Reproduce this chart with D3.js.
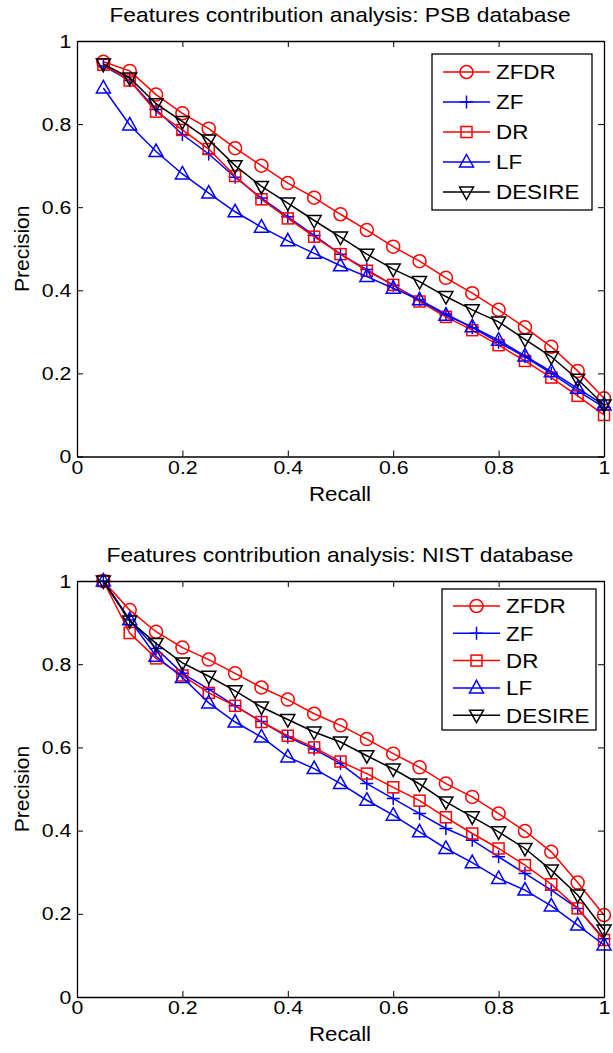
<!DOCTYPE html>
<html>
<head>
<meta charset="utf-8">
<script src="https://cdn.jsdelivr.net/npm/d3@7"></script>
<style>
  body { margin: 0; background: #fff; }
  text { font-family: "Liberation Sans", Arial, sans-serif; fill: #000; }
</style>
</head>
<body>
<div id="container"></div>
<script>
// recall levels shared by both plots
const recall = [0.05, 0.1, 0.15, 0.2, 0.25, 0.3, 0.35, 0.4, 0.45, 0.5,
                0.55, 0.6, 0.65, 0.7, 0.75, 0.8, 0.85, 0.9, 0.95, 1.0]
const seriesNames = ["ZFDR", "ZF", "DR", "LF", "DESIRE"]
const xTicks = [0, 0.2, 0.4, 0.6, 0.8, 1]
const yTicks = [0, 0.2, 0.4, 0.6, 0.8, 1]

// PSB database
const psbZFDR   = [0.950, 0.928, 0.871, 0.826, 0.789, 0.742, 0.700, 0.658, 0.623, 0.583, 0.545, 0.505, 0.470, 0.430, 0.393, 0.353, 0.311, 0.264, 0.206, 0.140]
const psbZF     = [0.940, 0.905, 0.835, 0.775, 0.728, 0.672, 0.622, 0.577, 0.532, 0.487, 0.450, 0.412, 0.377, 0.343, 0.310, 0.275, 0.240, 0.200, 0.158, 0.118]
const psbDR     = [0.943, 0.905, 0.830, 0.786, 0.740, 0.675, 0.619, 0.573, 0.529, 0.487, 0.447, 0.413, 0.373, 0.336, 0.304, 0.268, 0.230, 0.190, 0.146, 0.100]
const psbLF     = [0.887, 0.798, 0.734, 0.680, 0.634, 0.589, 0.552, 0.519, 0.489, 0.459, 0.433, 0.405, 0.377, 0.340, 0.312, 0.280, 0.242, 0.204, 0.164, 0.124]
const psbDESIRE = [0.945, 0.911, 0.849, 0.806, 0.762, 0.700, 0.650, 0.610, 0.568, 0.528, 0.487, 0.451, 0.421, 0.385, 0.353, 0.324, 0.282, 0.240, 0.186, 0.124]

// NIST database
const nistZFDR   = [1.0, 0.930, 0.878, 0.840, 0.811, 0.778, 0.744, 0.715, 0.681, 0.653, 0.620, 0.585, 0.552, 0.513, 0.481, 0.441, 0.399, 0.349, 0.275, 0.197]
const nistZF     = [1.0, 0.906, 0.838, 0.778, 0.740, 0.700, 0.662, 0.625, 0.596, 0.561, 0.513, 0.477, 0.441, 0.405, 0.377, 0.337, 0.297, 0.257, 0.213, 0.140]
const nistDR     = [1.0, 0.875, 0.814, 0.773, 0.731, 0.700, 0.661, 0.628, 0.600, 0.566, 0.537, 0.504, 0.472, 0.432, 0.393, 0.357, 0.317, 0.271, 0.213, 0.137]
const nistLF     = [1.0, 0.907, 0.819, 0.768, 0.707, 0.661, 0.625, 0.577, 0.549, 0.513, 0.473, 0.437, 0.397, 0.357, 0.323, 0.285, 0.257, 0.219, 0.173, 0.125]
const nistDESIRE = [1.0, 0.904, 0.850, 0.803, 0.771, 0.736, 0.697, 0.667, 0.637, 0.613, 0.580, 0.548, 0.512, 0.469, 0.433, 0.397, 0.357, 0.305, 0.245, 0.161]

const colors  = { ZFDR: "#ff0000", ZF: "#0000ff", DR: "#ff0000", LF: "#0000ff", DESIRE: "#000000" }
const symbols = { ZFDR: "circle", ZF: "plus", DR: "square", LF: "tri-up", DESIRE: "tri-down" }

const W = 613, H = 1053
const stretch = 1.12   // the source fonts are a bit wider than Liberation Sans

const svg = d3.select("#container")
  .append("svg")
  .attr("width", W)
  .attr("height", H)

// draws a matlab style marker into g
function marker(g, type, color) {
  if (type === "circle") {
    g.append("circle").attr("r", 6.5)
  } else if (type === "square") {
    g.append("rect").attr("x", -5.5).attr("y", -5.5).attr("width", 11).attr("height", 11)
  } else if (type === "plus") {
    g.append("path").attr("d", "M-6.5,0H6.5M0,-6.5V6.5")
  } else if (type === "tri-up") {
    g.append("path").attr("d", "M0,-7.5L7,5L-7,5Z")
  } else if (type === "tri-down") {
    g.append("path").attr("d", "M0,7.5L7,-5L-7,-5Z")
  }
  g.selectAll("*").attr("fill", "none").attr("stroke", color).attr("stroke-width", 1.5)
}

// horizontal text with the small stretch
function label(g, x, y, txt, size, anchor, s) {
  return g.append("text")
    .attr("transform", `translate(${x},${y}) scale(${s || stretch},1)`)
    .attr("text-anchor", anchor || "middle")
    .style("font-size", size + "px")
    .text(txt)
}

function drawChart(opts) {
  const x = d3.scaleLinear().domain([0, 1]).range([77, 604])
  const y = d3.scaleLinear().domain([0, 1]).range([opts.bottom, opts.top])
  const g = svg.append("g")

  // series
  seriesNames.forEach(name => {
    const vals = opts.data[name]
    const pts = recall.map((r, i) => [r, vals[i]])
    g.append("path")
      .datum(pts)
      .attr("fill", "none")
      .attr("stroke", colors[name])
      .attr("stroke-width", 1.5)
      .attr("d", d3.line().x(d => x(d[0])).y(d => y(d[1])))
    g.append("g").selectAll("g")
      .data(pts)
      .join("g")
      .attr("transform", d => `translate(${x(d[0])},${y(d[1])})`)
      .each(function () { marker(d3.select(this), symbols[name], colors[name]) })
  })

  // axes, ticks on all four sides pointing in
  const tl = 6
  const bottomAx = g.append("g").attr("transform", `translate(0,${opts.bottom})`)
    .call(d3.axisBottom(x).tickValues(xTicks).tickSizeInner(-tl).tickSizeOuter(0).tickPadding(4).tickFormat(d3.format("")))
  const topAx = g.append("g").attr("transform", `translate(0,${opts.top})`)
    .call(d3.axisTop(x).tickValues(xTicks).tickSizeInner(-tl).tickSizeOuter(0).tickFormat(""))
  const leftAx = g.append("g").attr("transform", `translate(77,0)`)
    .call(d3.axisLeft(y).tickValues(yTicks).tickSizeInner(-tl).tickSizeOuter(0).tickPadding(5).tickFormat(d3.format("")))
  const rightAx = g.append("g").attr("transform", `translate(604,0)`)
    .call(d3.axisRight(y).tickValues(yTicks).tickSizeInner(-tl).tickSizeOuter(0).tickFormat(""))
  ;[bottomAx, topAx, leftAx, rightAx].forEach(a => {
    a.select(".domain").attr("stroke", "#000").attr("stroke-width", 1.3)
    a.selectAll(".tick line").attr("stroke", "#000")
    a.selectAll("text")
      .style("font-size", "19px")
      .style("font-family", "Liberation Sans, Arial, sans-serif")
      .attr("fill", "#000")
      .attr("transform", `scale(${stretch},1)`)
  })

  // title and labels
  label(g, 340, opts.top - 19, opts.title, 20, "middle", 1.14)
  label(g, 340, opts.bottom + 44, "Recall", 20)
  g.append("text")
    .attr("transform", `translate(29,${(opts.top + opts.bottom) / 2}) rotate(-90)`)
    .attr("text-anchor", "middle")
    .style("font-size", "21px")
    .text("Precision")

  // legend
  const L = opts.legend
  const lg = g.append("g")
  lg.append("rect")
    .attr("x", L.x).attr("y", L.y).attr("width", L.w).attr("height", L.h)
    .attr("fill", "#fff").attr("stroke", "#000").attr("stroke-width", 1.3)
  seriesNames.forEach((name, i) => {
    const cy = L.y + L.first + i * L.step
    lg.append("line")
      .attr("x1", L.x + 11).attr("x2", L.x + 58).attr("y1", cy).attr("y2", cy)
      .attr("stroke", colors[name]).attr("stroke-width", 1.5)
    const m = lg.append("g").attr("transform", `translate(${L.x + 34.5},${cy})`)
    marker(m, symbols[name], colors[name])
    label(lg, L.x + 64, cy + 7.3, name, 20, "start")
  })
}

drawChart({
  title: "Features contribution analysis: PSB database",
  top: 41, bottom: 456.5,
  data: { ZFDR: psbZFDR, ZF: psbZF, DR: psbDR, LF: psbLF, DESIRE: psbDESIRE },
  legend: { x: 432, y: 54, w: 160, h: 156, first: 18, step: 30 }
})

drawChart({
  title: "Features contribution analysis: NIST database",
  top: 581, bottom: 997,
  data: { ZFDR: nistZFDR, ZF: nistZF, DR: nistDR, LF: nistLF, DESIRE: nistDESIRE },
  legend: { x: 442, y: 589, w: 154, h: 141, first: 17, step: 27.3 }
})
</script>
</body>
</html>
